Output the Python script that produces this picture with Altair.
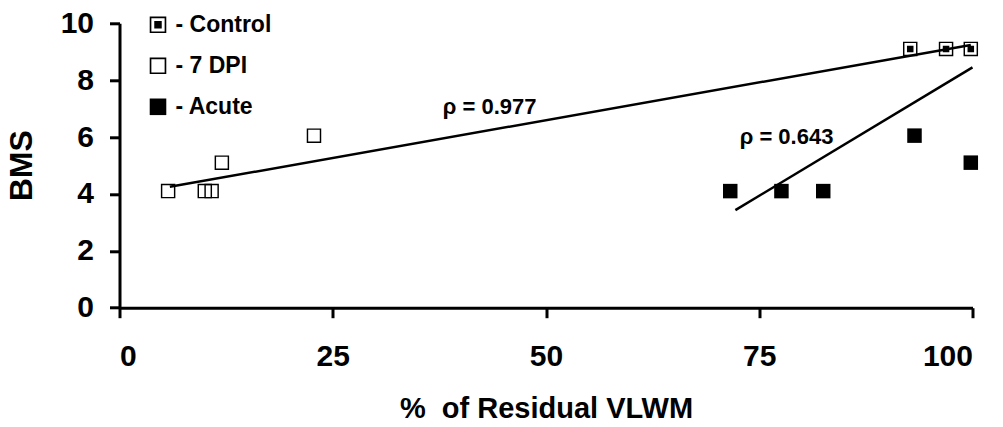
import altair as alt
import pandas as pd

# ---- data ----
groups = ["Control", "7 DPI", "Acute"]
ctrl_x = [92.7, 96.9, 99.8]
ctrl_y = [9.1, 9.1, 9.1]
dpi_x = [5.7, 10.0, 10.8, 12.0, 22.8]
dpi_y = [4.1, 4.1, 4.1, 5.1, 6.05]
acute_x = [71.6, 77.6, 82.5, 93.2, 99.8]
acute_y = [4.1, 4.1, 4.1, 6.05, 5.1]

fit1_x = [5.9, 99.8]
fit1_y = [4.25, 9.24]
fit2_x = [72.2, 100.0]
fit2_y = [3.43, 8.45]

notes = ["\u03c1 = 0.977", "\u03c1 = 0.643"]
notes_x = [43.4, 78.2]
notes_y = [7.07, 6.01]

x_ticks = [0, 25, 50, 75, 100]
y_ticks = [0, 2, 4, 6, 8, 10]

FONT = "Liberation Sans"

pts = pd.DataFrame(
    {
        "x": ctrl_x + dpi_x + acute_x,
        "y": ctrl_y + dpi_y + acute_y,
        "g": ["Control"] * len(ctrl_x) + ["7 DPI"] * len(dpi_x) + ["Acute"] * len(acute_x),
    }
)
fits = pd.DataFrame(
    {
        "x": fit1_x + fit2_x,
        "y": fit1_y + fit2_y,
        "k": ["a"] * len(fit1_x) + ["b"] * len(fit2_x),
    }
)
ann = pd.DataFrame({"x": notes_x, "y": notes_y, "t": notes})

ring = "M-1,-1H1V1H-1Z M-0.8,-0.8V0.8H0.8V-0.8Z"
ring_dot = ring + " M-0.45,-0.45H0.45V0.45H-0.45Z"
solid = "M-1,-1H1V1H-1Z"

xs = alt.Scale(domain=[0, 100], nice=False)
ys = alt.Scale(domain=[0, 10], nice=False)

x_axis = alt.Axis(
    values=x_ticks,
    title="%\u00a0\u00a0of Residual VLWM",
    labelPadding=24,
    titleY=110,
    titleBaseline="alphabetic",
    titleFontSize=29,
)
y_axis = alt.Axis(
    values=y_ticks,
    title="BMS",
    labelPadding=16,
    titleX=-98,
    titleY=142,
    titleAngle=-90,
    titleAlign="center",
    titleBaseline="middle",
    titleFontSize=32,
)

points = (
    alt.Chart(pts)
    .mark_point(filled=True, fill="black", strokeWidth=0, size=210, opacity=1)
    .encode(
        x=alt.X("x:Q", scale=xs, axis=x_axis),
        y=alt.Y("y:Q", scale=ys, axis=y_axis),
        shape=alt.Shape(
            "g:N",
            scale=alt.Scale(domain=groups, range=[ring_dot, ring, solid]),
            legend=alt.Legend(
                title=None,
                orient="none",
                legendX=27,
                legendY=-10,
                padding=0,
                symbolSize=275,
                symbolFillColor="black",
                symbolStrokeWidth=0,
                symbolOpacity=1,
                labelFont=FONT,
                labelFontSize=23,
                labelFontWeight="bold",
                labelColor="black",
                labelOffset=6,
                rowPadding=17,
                labelExpr="'- ' + datum.label",
            ),
        ),
    )
)

lines = (
    alt.Chart(fits)
    .mark_line(color="black", strokeWidth=2.5)
    .encode(x=alt.X("x:Q", scale=xs), y=alt.Y("y:Q", scale=ys), detail="k:N")
)

texts = (
    alt.Chart(ann)
    .mark_text(
        font=FONT, fontSize=22, fontWeight="bold", color="black", align="center", baseline="middle"
    )
    .encode(x=alt.X("x:Q", scale=xs), y=alt.Y("y:Q", scale=ys), text="t:N")
)

chart = (
    alt.layer(lines, points, texts)
    .properties(
        width=853,
        height=284.4,
        autosize=alt.AutoSizeParams(type="none"),
        padding={"left": 119.5, "top": 23.3, "right": 30.5, "bottom": 119.3},
        background="white",
    )
    .configure_view(stroke=None)
    .configure_axis(
        grid=False,
        domainColor="black",
        domainWidth=3,
        tickColor="black",
        tickWidth=3,
        tickSize=10,
        labelFont=FONT,
        labelFontSize=30,
        labelFontWeight="bold",
        labelColor="black",
        titleFont=FONT,
        titleFontWeight="bold",
        titleColor="black",
    )
)

chart.save("out.html", embed_options={"renderer": "svg", "actions": False})
